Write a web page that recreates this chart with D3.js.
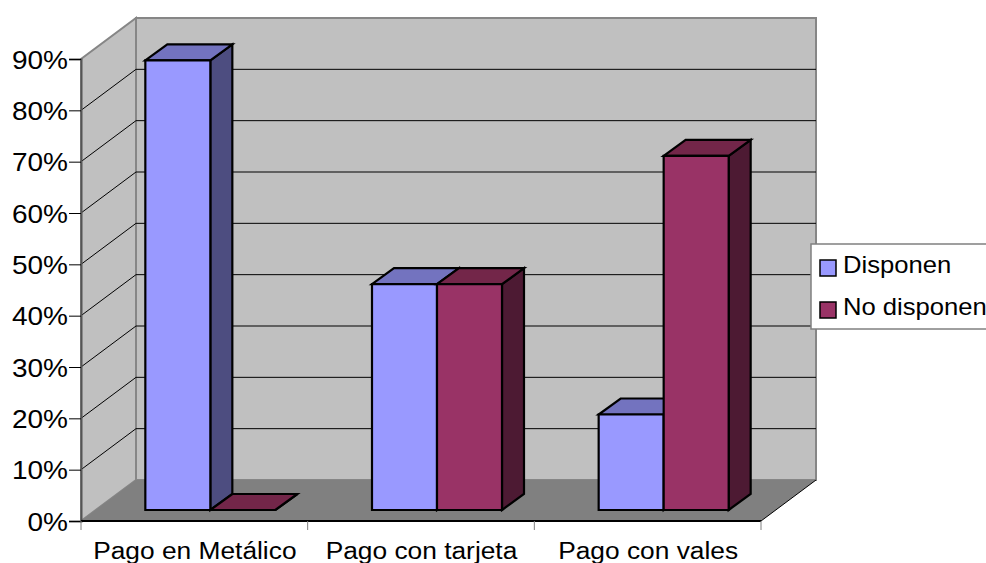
<!DOCTYPE html>
<html>
<head>
<meta charset="utf-8">
<script src="https://cdn.jsdelivr.net/npm/d3@7/dist/d3.min.js"></script>
<style>
html,body{margin:0;padding:0;background:#fff;overflow:hidden}
text{font-family:"Liberation Sans",Arial,sans-serif;fill:#000}
</style>
</head>
<body>
<svg id="chart" width="986" height="563"></svg>
<script>
const categories = ["Pago en Metálico", "Pago con tarjeta", "Pago con vales"];
const seriesNames = ["Disponen", "No disponen"];
const disponen = [87.6, 44, 18.6];
const noDisponen = [0, 44, 69];
const yTicks = [0, 10, 20, 30, 40, 50, 60, 70, 80, 90];

const colors = {
  Disponen: {front: "#9999ff", top: "#7373bf", side: "#4d4d80"},
  "No disponen": {front: "#993366", top: "#732649", side: "#4d1a33"}
};

const svg = d3.select("#chart");
const x = d3.scaleBand().domain(categories).range([81, 761]);
const y = d3.scaleLinear().domain([0, 90]).range([521, 59]);
const series = d3.scaleBand().domain(seriesNames).range([0, 130]);

// Oblique projection of the chart's depth
const depth = {dx: 55, dy: -41};
const barDepth = {dx: 22, dy: -16};
const barPlane = {dx: 16, dy: -11};

// Labels are set slightly wide, so each one is stretched along its run
const widen = (sel, k) => sel.attr("lengthAdjust", "spacingAndGlyphs")
  .attr("textLength", function () { return this.getComputedTextLength() * k; });

const poly = pts => "M" + pts.map(p => p.join(",")).join("L") + "Z";
const x0 = x.range()[0], x1 = x.range()[1];
const y0 = y(0), yMax = y(90);

// Walls and floor
svg.append("path").attr("fill", "#c0c0c0").attr("stroke", "#868686").attr("stroke-width", 2)
  .attr("d", poly([[x0 + depth.dx, y0 + depth.dy], [x1 + depth.dx, y0 + depth.dy], [x1 + depth.dx, yMax + depth.dy], [x0 + depth.dx, yMax + depth.dy]]));
svg.append("path").attr("fill", "#c0c0c0").attr("stroke", "#868686").attr("stroke-width", 2)
  .attr("d", poly([[x0, y0], [x0 + depth.dx, y0 + depth.dy], [x0 + depth.dx, yMax + depth.dy], [x0, yMax]]));
svg.append("path").attr("fill", "#808080")
  .attr("d", poly([[x0, y0], [x1, y0], [x1 + depth.dx, y0 + depth.dy], [x0 + depth.dx, y0 + depth.dy]]));

// Gridlines run up the side wall and across the back wall
svg.append("g").selectAll("path").data(yTicks.filter(t => t > 0 && t < 90)).join("path")
  .attr("fill", "none").attr("stroke", "#000").attr("stroke-width", 1)
  .attr("d", t => `M${x0},${y(t)}L${x0 + depth.dx},${y(t) + depth.dy}L${x1 + depth.dx},${y(t) + depth.dy}`);

// Floor edge on the right
svg.append("path").attr("fill", "none").attr("stroke", "#000").attr("stroke-width", 1)
  .attr("d", `M${x1},${y0}L${x1 + depth.dx},${y0 + depth.dy}`);

// Axes
const yAxis = d3.axisLeft(y).tickValues(yTicks).tickFormat(d => d + "%").tickSize(12).tickPadding(1);
const gy = svg.append("g").attr("transform", `translate(${x0},0)`).call(yAxis);
gy.select(".domain").attr("stroke", "#555").attr("stroke-width", 2);
gy.selectAll(".tick line").attr("stroke", "#000");
gy.selectAll("text").attr("font-size", 25).attr("dy", "0.36em").attr("fill", "#000").call(widen, 1.12);

const bottom = svg.append("g");
bottom.append("line").attr("x1", x0).attr("x2", x1).attr("y1", y0).attr("y2", y0).attr("stroke", "#000").attr("stroke-width", 2);
bottom.selectAll(".cat-tick").data(d3.range(categories.length + 1)).join("line")
  .attr("class", "cat-tick")
  .attr("x1", i => x0 + i * x.bandwidth()).attr("x2", i => x0 + i * x.bandwidth())
  .attr("y1", y0).attr("y2", y0 + 9).attr("stroke", "#808080").attr("stroke-width", 1);
bottom.selectAll("text").data(categories).join("text")
  .attr("x", d => x(d) + x.bandwidth() / 2 + 0.5).attr("y", 559)
  .attr("text-anchor", "middle").attr("font-size", 23.5).text(d => d).call(widen, 1.12);

// Bars, drawn back-to-front within each category
const rows = categories.flatMap((c, i) => [
  {cat: c, name: seriesNames[0], value: disponen[i]},
  {cat: c, name: seriesNames[1], value: noDisponen[i]}
]);
const barGroup = svg.append("g").attr("stroke", "#000").attr("stroke-width", 2.2).attr("stroke-linejoin", "miter");
rows.forEach(r => {
  const left = x(r.cat) + (x.bandwidth() - series.range()[1]) / 2 + series(r.name) + barPlane.dx;
  const right = left + series.bandwidth();
  const base = y(0) + barPlane.dy;
  const top = y(r.value) + barPlane.dy;
  const c = colors[r.name];
  const g = barGroup.append("g");
  g.append("path").attr("fill", c.side).attr("d", poly([[right, base], [right + barDepth.dx, base + barDepth.dy], [right + barDepth.dx, top + barDepth.dy], [right, top]]));
  g.append("path").attr("fill", c.top).attr("d", poly([[left, top], [right, top], [right + barDepth.dx, top + barDepth.dy], [left + barDepth.dx, top + barDepth.dy]]));
  if (r.value > 0) g.append("path").attr("fill", c.front).attr("d", poly([[left, base], [right, base], [right, top], [left, top]]));
});

// Legend
const legend = svg.append("g").attr("transform", "translate(811,244)");
legend.append("rect").attr("width", 176).attr("height", 85).attr("fill", "#fff").attr("stroke", "#808080").attr("stroke-width", 1.5);
const item = legend.selectAll(".item").data(seriesNames).join("g").attr("class", "item")
  .attr("transform", (d, i) => `translate(0,${i * 42})`);
item.append("rect").attr("x", 9).attr("y", 16).attr("width", 16).attr("height", 16)
  .attr("fill", d => colors[d].front).attr("stroke", "#000").attr("stroke-width", 1.5);
item.append("text").attr("x", 32).attr("y", 29).attr("font-size", 24).text(d => d).call(widen, 1.067);
</script>
</body>
</html>
